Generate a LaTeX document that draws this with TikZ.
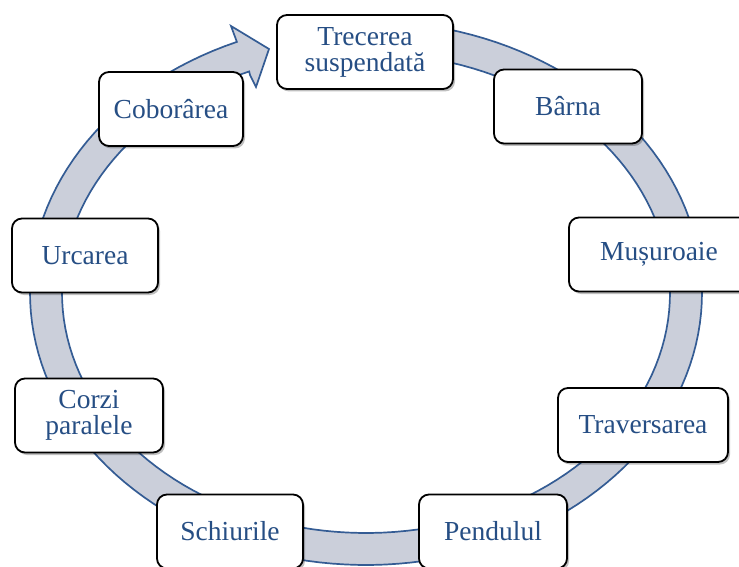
\documentclass[tikz,border=0pt]{standalone}
\usepackage{fontspec}
\setmainfont{Liberation Serif}
\usetikzlibrary{shadows}
\definecolor{txtblue}{RGB}{38,78,132}
\definecolor{bandfill}{RGB}{203,207,218}
\definecolor{bandline}{RGB}{52,92,148}
\begin{document}
\begin{tikzpicture}[x=1pt,y=-1pt,
  stage/.style={draw=black, line width=1.8pt, fill=white, rounded corners=10pt,
    align=center, text=txtblue, font=\fontsize{27.5}{28}\selectfont, inner sep=0pt,
    minimum height=74pt,
    drop shadow={shadow xshift=2pt, shadow yshift=-2.5pt, opacity=0.25, fill=black}},
  band/.style={fill=bandfill, draw=bandline, line width=1.7pt, line join=miter}
]
\clip (0,0) rectangle (739,567);
% circular arrow
\path[band]
  plot[domain=275:607.4, samples=150] ({366+336*cos(\x)},{293+272*sin(\x)})
  -- (231,26) -- (269,49) -- (256,87) -- (250,75)
  -- plot[domain=607.4:275, samples=150] ({366+304*cos(\x)},{293+240*sin(\x)}) -- cycle;
% stages
\node[stage, minimum width=176pt] (trec) at (365,52) {\raisebox{-2pt}{Trecerea}\\suspendată};
\node[stage, minimum width=148pt] (barna) at (568,106.5) {Bârna};
\node[stage, minimum width=180pt] (musu) at (659,254.5) {Mușuroaie};
\node[stage, minimum width=170pt] (trav) at (643,425) {Traversarea};
\node[stage, minimum width=148pt] (pend) at (493,531.5) {Pendulul};
\node[stage, minimum width=146pt] (schi) at (230,531.5) {Schiurile};
\node[stage, minimum width=148pt] (corzi) at (89,415.5) {\raisebox{-2pt}{Corzi}\\paralele};
\node[stage, minimum width=146pt] (urc) at (85,255.5) {Urcarea};
\node[stage, minimum width=144pt] (cob) at (171,109) {Coborârea};
\end{tikzpicture}
\end{document}
